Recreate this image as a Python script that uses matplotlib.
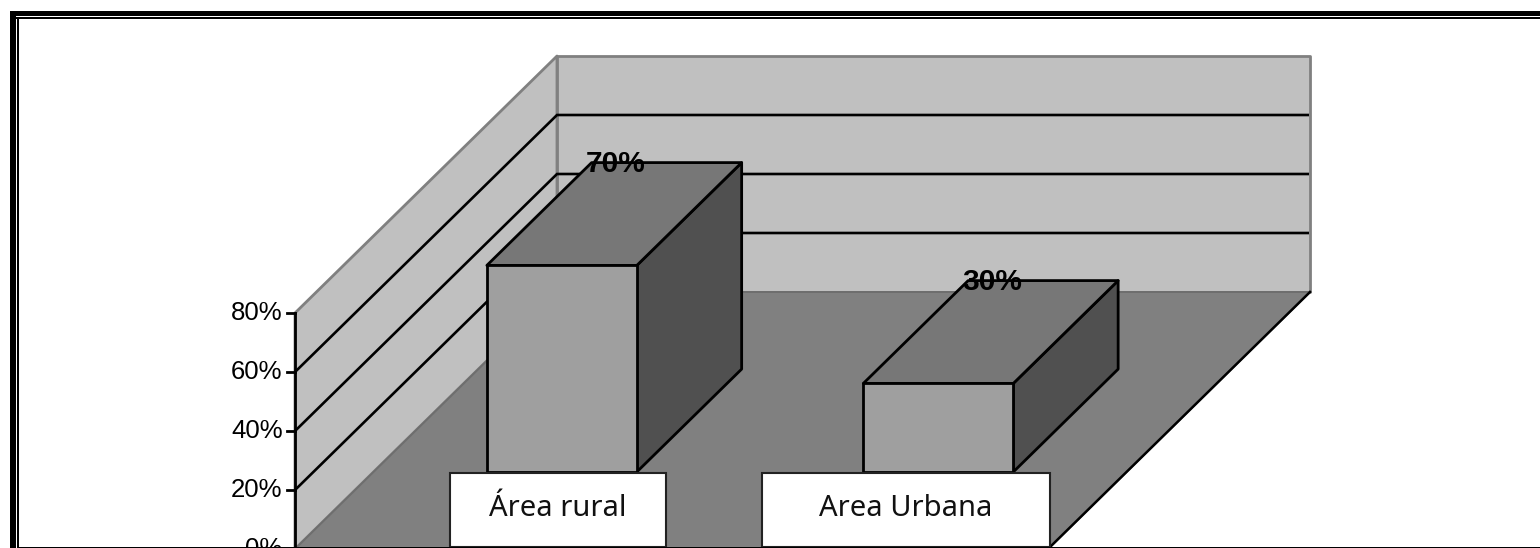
import matplotlib
matplotlib.use("Agg")
import matplotlib.pyplot as plt
from matplotlib.patches import Polygon, Rectangle

categories = ["Área rural", "Area Urbana"]
values = [70, 30]
value_labels = ["70%", "30%"]
axis_ticks = [0, 20, 40, 60, 80]
tick_labels = ["0%", "20%", "40%", "60%", "80%"]

# pixel layout of the oblique 3d box
X0, Y0 = 295, 549
WALL_W = 753
DEPTH_X, DEPTH_Y = 262, 257
PX_PER_PCT = 2.95
BAR_W = 150
BAR_D0, BAR_D1 = 0.30, 0.70

WALL = "#c0c0c0"
FLOOR = "#808080"
FRONT = "#9f9f9f"
TOP = "#777777"
SIDE = "#505050"
EDGE = "#808080"


def proj(x, v, d):
    """x along the category axis, v in percent, d depth from 0 to 1."""
    return X0 + x + d * DEPTH_X, Y0 - v * PX_PER_PCT - d * DEPTH_Y


def face(ax, pts, color, edge="black", lw=2.0, z=1):
    ax.add_patch(Polygon([proj(*p) for p in pts], closed=True, facecolor=color,
                         edgecolor=edge, linewidth=lw, joinstyle="round", zorder=z))


fig = plt.figure(figsize=(15.4, 5.48), dpi=100)
ax = fig.add_axes([0, 0, 1, 1])
ax.set_xlim(0, 1540)
ax.set_ylim(548, 0)
ax.axis("off")

top_v = axis_ticks[-1]

# walls and floor
face(ax, [(0, 0, 0), (0, top_v, 0), (0, top_v, 1), (0, 0, 1)], WALL, EDGE, 2.0)
face(ax, [(0, 0, 1), (0, top_v, 1), (WALL_W, top_v, 1), (WALL_W, 0, 1)], WALL, EDGE, 2.0)
face(ax, [(0, 0, 0), (0, 0, 1), (WALL_W, 0, 1), (WALL_W, 0, 0)], FLOOR, "#6e6e6e", 1.4)

# floor front-right edge is black in the original
xs, ys = zip(proj(WALL_W, 0, 0), proj(WALL_W, 0, 1))
ax.plot(xs, ys, color="black", lw=1.8, zorder=2)

# gridlines go up the side wall then across the back wall
for v in axis_ticks[1:-1]:
    pts = [proj(0, v, 0), proj(0, v, 1), proj(WALL_W - 1, v, 1)]
    ax.plot(*zip(*pts), color="black", lw=1.9, zorder=2, solid_joinstyle="miter",
            solid_capstyle="butt")

# value axis
xs, ys = zip(proj(0, 0, 0), proj(0, top_v, 0))
ax.plot(xs, ys, color="black", lw=2.0, zorder=3)
for v, lab in zip(axis_ticks, tick_labels):
    px, py = proj(0, v, 0)
    ax.plot([px - 8, px], [py, py], color="black", lw=2.0, zorder=3)
    ax.text(px - 12.5, py, lab, ha="right", va="center", fontsize=18.5,
            family="Liberation Sans", color="black", clip_on=True, zorder=3)

# bars
cat_w = WALL_W / len(values)
for i, v in enumerate(values):
    x0 = cat_w * (i + 0.5) - BAR_W / 2
    x1 = x0 + BAR_W
    face(ax, [(x1, 0, BAR_D0), (x1, v, BAR_D0), (x1, v, BAR_D1), (x1, 0, BAR_D1)], SIDE, z=4)
    face(ax, [(x0, v, BAR_D0), (x0, v, BAR_D1), (x1, v, BAR_D1), (x1, v, BAR_D0)], TOP, z=4)
    face(ax, [(x0, 0, BAR_D0), (x0, v, BAR_D0), (x1, v, BAR_D0), (x1, 0, BAR_D0)], FRONT, z=5)

    lx, _ = proj((x0 + x1) / 2, v, (BAR_D0 + BAR_D1) / 2)
    _, ly = proj(0, v, BAR_D1)
    ax.text(lx + 1, ly + 1, value_labels[i], ha="center", va="center", fontsize=21.5,
            fontweight="bold", family="Liberation Sans", color="black", zorder=7)

# category label boxes
boxes = [(450, 666), (762, 1050)]
for (bx0, bx1), name in zip(boxes, categories):
    ax.add_patch(Rectangle((bx0, 473), bx1 - bx0, 74, facecolor="white",
                           edgecolor="#222222", linewidth=1.5, zorder=6))
    ax.text((bx0 + bx1) / 2, 508.5, name, ha="center", va="center", fontsize=21,
            family="Noto Sans", color="#111111", zorder=7)

# page border around the chart
ax.add_patch(Rectangle((0, 10.5), 1540, 5, facecolor="black", edgecolor="none", zorder=8))
ax.add_patch(Rectangle((0, 17), 1540, 1.6, facecolor="black", edgecolor="none", zorder=8))
ax.add_patch(Rectangle((10, 10.5), 5.5, 538, facecolor="black", edgecolor="none", zorder=8))
ax.add_patch(Rectangle((17, 17), 1.6, 531, facecolor="black", edgecolor="none", zorder=8))
ax.add_patch(Rectangle((0, 0), 10, 548, facecolor="white", edgecolor="none", zorder=9))
ax.add_patch(Rectangle((17, 546.6), 1523, 1.4, facecolor="black", edgecolor="none", zorder=8))

fig.savefig("out.png", dpi=100, facecolor="white")
plt.close(fig)
